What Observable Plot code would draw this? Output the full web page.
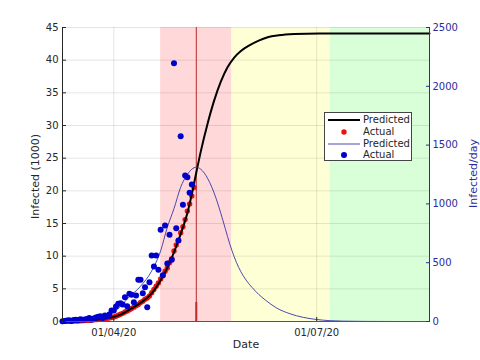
<!DOCTYPE html>
<html><head><meta charset="utf-8">
<script src="https://cdn.jsdelivr.net/npm/d3@7"></script>
<script src="https://cdn.jsdelivr.net/npm/@observablehq/plot@0.6"></script>
<style>
body{margin:0;background:#fff;font-family:"DejaVu Sans",sans-serif;}
#wrap{position:relative;width:480px;height:360px;}
#legend{position:absolute;left:324px;top:112px;width:88px;height:49px;border:1px solid #444;background:#fff;font-size:10px;color:#262626;box-sizing:border-box;padding-top:1px;}
#legend .row{height:11.8px;line-height:11.8px;display:flex;align-items:center;}
#legend svg{width:36px;height:12px;flex:none;margin-left:2px;}
</style></head>
<body><div id="wrap"><div id="chart"></div><div id="legend"></div></div>
<script>
// ---- data ----
const firstDay = "2020-03-09";
// cumulative infected (thousands), one per day from firstDay
const actualCum = [0.01,0.02,0.03,0.04,0.05,0.06,0.08,0.09,0.11,0.13,
  0.15,0.17,0.2,0.22,0.25,0.28,0.32,0.36,0.4,0.44,
  0.49,0.54,0.62,0.7,0.8,0.95,1.1,1.25,1.45,1.6,
  1.8,2.0,2.2,2.4,2.6,2.9,3.1,3.4,3.6,3.9,
  4.4,4.9,5.4,5.9,6.5,7.0,7.7,8.2,9.0,9.6,
  10.8,11.7,12.4,13.6,14.5,15.6,16.9,18.0,19.2,20.5];
// daily infected, one per day from firstDay
const actualDaily = [3,5,8,10,5,12,15,10,20,15,
  18,22,30,15,25,35,40,45,30,50,
  45,60,94,94,128,150,155,144,207,130,
  236,228,164,221,355,355,240,292,122,334,
  561,468,561,440,780,394,816,493,737,525,
  2196,792,689,1576,992,1241,1227,1094,1165];
// predicted cumulative (thousands) at day offsets
const predCumDay = [0,5,10,15,20,25,30,35,40,44,47,50,53,56,58,60,62,65,68,71,74,77,80,84,88,92,97,104,115,164.6];
const predCum = [0.01,0.05,0.14,0.28,0.48,0.92,1.8,2.85,4.3,6.3,8.2,10.6,13.4,16.6,19.5,22.8,26.0,30.2,33.8,36.7,38.9,40.4,41.4,42.3,43.0,43.5,43.8,44.0,44.1,44.1];
// predicted daily at day offsets
const predDailyDay = [0,10,17,23,30,35,40,44,47,50,53,56,58,60,62,65,69,71,73,75,77,79,81,83,85,88,91,96,102,108,114,120,126,135,150,164.6];
const predDaily = [3,12,34,79,210,300,430,600,800,960,1142,1250,1295,1312,1295,1220,1040,920,790,660,550,460,390,335,290,230,182,115,66,35,17,7,3,1,0,0];
// phases
const phaseStart = ["2020-04-22","2020-05-24","2020-07-07"];
const phaseEnd = ["2020-05-24","2020-07-07","2020-08-20T14:00"];
const markerDate = "2020-05-08";
const markerStemTop = 2.9;
const xEnd = "2020-08-20T14:00";
// ticks
const leftTicks = [0,5,10,15,20,25,30,35,40,45];
const rightTicks = [0,500,1000,1500,2000,2500];
const xTickDates = ["2020-04-01","2020-07-01"];
const xTickLabels = ["01/04/20","01/07/20"];
const legendLabels = ["Predicted","Actual","Predicted","Actual"];

// ---- build ----
const day0 = new Date(firstDay + "T00:00Z");
const dayDate = d => new Date(day0.getTime() + d * 864e5);
const utc = s => new Date(s.length > 10 ? s + "Z" : s + "T00:00Z");
const K = 45 / 2500;
const cumPts = actualCum.map((v, i) => ({date: dayDate(i), v}));
const dailyPts = actualDaily.map((v, i) => ({date: dayDate(i), v: v * K}));
const predCumPts = predCumDay.map((d, i) => ({date: dayDate(d), v: predCum[i]}));
const predDailyPts = predDailyDay.map((d, i) => ({date: dayDate(d), v: predDaily[i] * K}));
const phaseColors = ["#ffd9d9","#ffffd6","#d9ffd9"];
const phases = phaseStart.map((s, i) => ({x1: utc(s), x2: utc(phaseEnd[i]), fill: phaseColors[i]}));
const xTicks = xTickDates.map(utc);
const blueAxis = "#2b2ba0";

const chart = Plot.plot({
  width: 480, height: 360,
  marginLeft: 62, marginRight: 51, marginTop: 27, marginBottom: 39,
  style: {fontFamily: "DejaVu Sans, sans-serif", fontSize: "10px", background: "white", color: "#262626"},
  x: {type: "utc", domain: [day0, utc(xEnd)]},
  y: {domain: [0, 45]},
  marks: [
    Plot.rect(phases, {x1: "x1", x2: "x2", fill: "fill"}),
    Plot.gridY(leftTicks, {stroke: "#000", strokeOpacity: 0.1}),
    Plot.gridX(xTicks, {stroke: "#000", strokeOpacity: 0.1}),
    Plot.ruleX([utc(markerDate)], {stroke: "#b52a2a", strokeWidth: 1}),
    Plot.ruleX([utc(markerDate)], {y1: 0, y2: markerStemTop, stroke: "#c02a2a", strokeWidth: 2}),
    Plot.dot(cumPts, {x: "date", y: "v", r: 2.7, fill: "#ee1111"}),
    Plot.line(predCumPts, {x: "date", y: "v", stroke: "black", strokeWidth: 2, curve: "monotone-x"}),
    Plot.line(predDailyPts, {x: "date", y: "v", stroke: "#3636a8", strokeWidth: 0.9, curve: "monotone-x"}),
    Plot.dot(dailyPts, {x: "date", y: "v", r: 3, fill: "#0000cc"}),
    Plot.ruleY([0], {stroke: "#555"}),
    Plot.ruleX([day0], {stroke: "#262626"}),
    Plot.ruleX([utc(xEnd)], {stroke: blueAxis}),
    Plot.axisY(leftTicks, {anchor: "left", tickSize: -4, tickPadding: 8, label: null}),
    Plot.axisY(rightTicks.map(v => v * K), {anchor: "right", tickSize: -4, tickPadding: 7, stroke: blueAxis, fill: blueAxis, tickFormat: d => String(Math.round(d / K)), label: null}),
    Plot.axisX(xTicks, {anchor: "bottom", tickSize: -4, tickPadding: 11, tickFormat: (d, i) => xTickLabels[i], label: null}),
    Plot.text(["Infected (1000)"], {frameAnchor: "left", rotate: -90, dx: -27, dy: 2, fontSize: 11, fill: "#262626", textAnchor: "middle"}),
    Plot.text(["Infected/day"], {frameAnchor: "right", rotate: -90, dx: 44, dy: -1, fontSize: 11, fill: blueAxis, textAnchor: "middle"}),
    Plot.text(["Date"], {frameAnchor: "bottom", dy: 26, fontSize: 11, fill: "#262626", textAnchor: "middle"})
  ]
});
document.getElementById("chart").appendChild(chart);

// legend
const lg = document.getElementById("legend");
const swatches = [
  '<line x1="1" y1="6" x2="33" y2="6" stroke="black" stroke-width="2"/>',
  '<circle cx="17" cy="6" r="2.7" fill="#ee1111"/>',
  '<line x1="1" y1="6" x2="33" y2="6" stroke="#3636a8" stroke-width="0.9"/>',
  '<circle cx="17" cy="6" r="3" fill="#0000cc"/>'
];
legendLabels.forEach((t, i) => {
  const row = document.createElement("div");
  row.className = "row";
  row.innerHTML = `<svg viewBox="0 0 36 12">${swatches[i]}</svg><span>${t}</span>`;
  lg.appendChild(row);
});
</script>
</body></html>
